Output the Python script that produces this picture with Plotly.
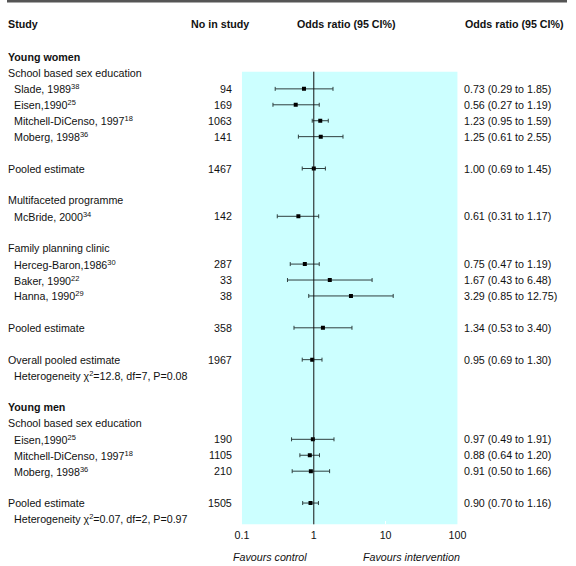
import plotly.graph_objects as go

# ---------------- data ----------------
study_labels = [
    "Slade, 1989<sup>38</sup>", "Eisen,1990<sup>25</sup>",
    "Mitchell-DiCenso, 1997<sup>18</sup>", "Moberg, 1998<sup>36</sup>",
    "Pooled estimate",
    "McBride, 2000<sup>34</sup>",
    "Herceg-Baron,1986<sup>30</sup>", "Baker, 1990<sup>22</sup>", "Hanna, 1990<sup>29</sup>",
    "Pooled estimate",
    "Overall pooled estimate",
    "Eisen,1990<sup>25</sup>", "Mitchell-DiCenso, 1997<sup>18</sup>", "Moberg, 1998<sup>36</sup>",
    "Pooled estimate",
]
n_in_study = [94, 169, 1063, 141, 1467, 142, 287, 33, 38, 358, 1967, 190, 1105, 210, 1505]
odds_ratio = [0.73, 0.56, 1.23, 1.25, 1.00, 0.61, 0.75, 1.67, 3.29, 1.34, 0.95, 0.97, 0.88, 0.91, 0.90]
ci_low = [0.29, 0.27, 0.95, 0.61, 0.69, 0.31, 0.47, 0.43, 0.85, 0.53, 0.69, 0.49, 0.64, 0.50, 0.70]
ci_high = [1.85, 1.19, 1.59, 2.55, 1.45, 1.17, 1.19, 6.48, 12.75, 3.40, 1.30, 1.91, 1.20, 1.66, 1.16]

tick_values = [0.1, 1, 10, 100]
tick_labels = ["0.1", "1", "10", "100"]

# table layout (order of lines)
lines = [
    ("group", "Young women"),
    ("sub", "School based sex education"),
    ("study", 0), ("study", 1), ("study", 2), ("study", 3),
    ("blank", None),
    ("pooled", 4),
    ("blank", None),
    ("sub", "Multifaceted programme"),
    ("study", 5),
    ("blank", None),
    ("sub", "Family planning clinic"),
    ("study", 6), ("study", 7), ("study", 8),
    ("blank", None),
    ("pooled", 9),
    ("blank", None),
    ("pooled", 10),
    ("note", "Heterogeneity χ<sup>2</sup>=12.8, df=7, P=0.08"),
    ("blank", None),
    ("group", "Young men"),
    ("sub", "School based sex education"),
    ("study", 11), ("study", 12), ("study", 13),
    ("blank", None),
    ("pooled", 14),
    ("note", "Heterogeneity χ<sup>2</sup>=0.07, df=2, P=0.97"),
]

W, H = 576, 566
FONT = "Liberation Sans, Arial, Helvetica, sans-serif"
FS = 10.7


def px(v):
    return v / W


row_of = {}
for r, (kind, val) in enumerate(lines):
    if kind in ("study", "pooled"):
        row_of[val] = r

ys = [row_of[i] for i in range(len(study_labels))]

fig = go.Figure()
fig.add_trace(go.Scatter(
    x=odds_ratio, y=ys, mode="markers",
    marker=dict(symbol="square", size=4, color="black"),
    error_x=dict(type="data", symmetric=False,
                 array=[h - o for h, o in zip(ci_high, odds_ratio)],
                 arrayminus=[o - l for o, l in zip(odds_ratio, ci_low)],
                 color="#2f3f3f", thickness=1, width=2),
    showlegend=False, hoverinfo="skip",
))

ann = []


def add(text, x, y, anchor="left", bold=False, italic=False):
    t = text
    if bold:
        t = "<b>" + t + "</b>"
    if italic:
        t = "<i>" + t + "</i>"
    ann.append(dict(text=t, x=px(x), y=y, xref="paper", yref="y",
                    xanchor=anchor, yanchor="middle", showarrow=False,
                    borderpad=0, borderwidth=0,
                    font=dict(family=FONT, size=FS, color="#111")))


# headers
HDR = -2.05
add("Study", 1.5, HDR, bold=True)
add("No in study", 219.5, HDR, anchor="center", bold=True)
add("Odds ratio (95 CI%)", 349, HDR, anchor="center", bold=True)
add("Odds ratio (95 CI%)", 471, HDR, bold=True)

for r, (kind, val) in enumerate(lines):
    if kind == "group":
        add(val, 1.5, r, bold=True)
    elif kind == "sub":
        add(val, 1.5, r)
    elif kind == "note":
        add(val, 7, r)
    elif kind in ("study", "pooled"):
        i = val
        add(study_labels[i], 7 if kind == "study" else 1.5, r)
        add(str(n_in_study[i]), 231, r, anchor="right")
        add(f"{odds_ratio[i]:.2f} ({ci_low[i]:.2f} to {ci_high[i]:.2f})", 470.5, r)

FAV = 31.4
add("Favours control", 270, FAV, anchor="center", italic=True)
add("Favours intervention", 416.5, FAV, anchor="center", italic=True)

# geometry
Y0, DY = 57.0, 15.93


def row(pxv):
    return (pxv - Y0) / DY


cy_top, cy_bot = row(71.7), row(524.3)

shapes = [
    dict(type="rect", xref="x domain", yref="y", x0=0, x1=1, y0=cy_top, y1=cy_bot,
         fillcolor="#ccffff", line=dict(width=0), layer="below"),
    dict(type="line", xref="x", yref="y", x0=1, x1=1, y0=cy_top, y1=cy_bot,
         line=dict(color="#111", width=1)),
    dict(type="line", xref="paper", yref="paper", x0=0, x1=1,
         y0=1 - 1.2 / H, y1=1 - 1.2 / H, line=dict(color="#555", width=2.5)),
]

fig.update_layout(
    width=W, height=H, autosize=False,
    margin=dict(l=0, r=0, t=0, b=0, pad=0),
    paper_bgcolor="white", plot_bgcolor="rgba(0,0,0,0)",
    font=dict(family=FONT, size=FS, color="#111"),
    xaxis=dict(type="log", range=[-1, 2], domain=[px(241.7), px(463.3)],
               anchor="free", position=1 - 524.3 / H,
               tickvals=tick_values, ticktext=tick_labels,
               ticks="inside", ticklen=3, tickcolor="white",
               ticklabelstandoff=3,
               showgrid=False, zeroline=False, showline=False,
               tickfont=dict(family=FONT, size=FS, color="#111")),
    yaxis=dict(range=[row(566), row(0)], domain=[0, 1], visible=False),
    shapes=shapes, annotations=ann,
)

fig.write_html(
    "out.html",
    config={"displayModeBar": False, "responsive": False},
    post_script="document.documentElement.style.overflow='hidden';document.body.style.margin='0px';document.body.style.overflow='hidden';",
)
